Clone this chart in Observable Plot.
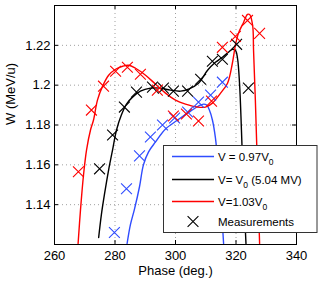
<!DOCTYPE html>
<html>
<head>
<meta charset="utf-8">
<script src="https://cdn.jsdelivr.net/npm/d3@7"></script>
<script src="https://cdn.jsdelivr.net/npm/@observablehq/plot@0.6"></script>
<style>
  body { margin: 0; background: #fff; }
  #chart { position: relative; width: 327px; height: 283px; }
  svg { font-family: "Liberation Sans", Arial, sans-serif; }
</style>
</head>
<body>
<div id="chart"></div>
<script>
// ---- data ----
const xTicks = [260, 280, 300, 320, 340];
const yTicks = [1.14, 1.16, 1.18, 1.2, 1.22];

// simulated curves (phase, W)
const blueCurveX = [284.0, 285.1, 286.4, 288.1, 289.4, 291.1, 293.4, 296.7, 300.7, 305.0, 307.6, 309.3, 310.3, 311.2, 312.2, 313.2, 314.2, 315.2, 315.9];
const blueCurveY = [1.1205, 1.13, 1.1375, 1.149, 1.16, 1.1665, 1.1715, 1.178, 1.1825, 1.187, 1.1895, 1.1905, 1.19, 1.1875, 1.1825, 1.1735, 1.1575, 1.1375, 1.1205];

const blackCurveX = [274.6, 275.5, 276.5, 277.9, 279.2, 280.5, 282.1, 283.8, 285.8, 288.4, 291.7, 295.0, 298.3, 301.7, 304.3, 307.6, 310.6, 313.2, 315.5, 317.5, 318.8, 319.8, 320.5, 321.2, 321.8, 322.5, 323.3];
const blackCurveY = [1.1235, 1.135, 1.145, 1.1575, 1.1675, 1.1775, 1.185, 1.1905, 1.194, 1.197, 1.1985, 1.1985, 1.1975, 1.197, 1.198, 1.201, 1.2075, 1.2115, 1.214, 1.2165, 1.218, 1.2175, 1.2135, 1.2, 1.1775, 1.1475, 1.1205];

const redCurveX = [267.8, 268.6, 269.6, 270.6, 271.9, 272.9, 274.2, 275.9, 277.9, 280.2, 282.5, 284.5, 286.8, 290.1, 293.4, 296.7, 300.0, 303.3, 307.3, 309.9, 312.2, 314.9, 317.2, 318.8, 319.8, 320.8, 322.5, 323.8, 324.5, 325.5, 325.8, 326.4, 327.1, 327.8];
const redCurveY = [1.1205, 1.1375, 1.155, 1.1675, 1.1775, 1.1825, 1.1925, 1.1995, 1.205, 1.208, 1.2095, 1.21, 1.2085, 1.205, 1.2005, 1.196, 1.1925, 1.1905, 1.189, 1.189, 1.191, 1.196, 1.201, 1.211, 1.22, 1.226, 1.2315, 1.2355, 1.2355, 1.23, 1.2175, 1.1925, 1.1575, 1.1205];

// measurements (phase, W)
const blueMeasX = [279.8, 283.8, 288.1, 291.7, 295.7, 299.7, 304.0, 307.6, 311.6, 315.5];
const blueMeasY = [1.126, 1.148, 1.1645, 1.174, 1.18, 1.1835, 1.1865, 1.1915, 1.195, 1.2015];

const blackMeasX = [274.9, 279.2, 283.1, 287.1, 292.4, 296.0, 299.3, 304.0, 308.3, 312.2, 315.5, 320.2, 324.1];
const blackMeasY = [1.158, 1.175, 1.189, 1.1965, 1.199, 1.1985, 1.197, 1.197, 1.203, 1.212, 1.213, 1.2205, 1.1985];

const redMeasX = [267.9, 272.2, 276.2, 280.2, 284.1, 288.4, 294.0, 299.3, 303.6, 307.6, 311.9, 315.5, 319.8, 323.8, 327.8];
const redMeasY = [1.1565, 1.1875, 1.1995, 1.207, 1.209, 1.2055, 1.1975, 1.1845, 1.1855, 1.182, 1.192, 1.219, 1.2245, 1.2325, 1.226];

const seriesNames = ["blue", "black", "red"];
const seriesColors = {blue: "#2f4cff", black: "#000000", red: "#ff0000"};

// ---- build tables ----
const zip = (xs, ys, s) => xs.map((x, i) => ({x, y: ys[i], s}));
const curves = [
  ...zip(blueCurveX, blueCurveY, "blue"),
  ...zip(blackCurveX, blackCurveY, "black"),
  ...zip(redCurveX, redCurveY, "red")
];
const meas = [
  ...zip(blueMeasX, blueMeasY, "blue"),
  ...zip(blackMeasX, blackMeasY, "black"),
  ...zip(redMeasX, redMeasY, "red")
];

const fmtY = d => String(+d.toFixed(2));
const gridX = xTicks.slice(1, -1);

const plot = Plot.plot({
  width: 327,
  height: 283,
  marginLeft: 54,
  marginRight: 31,
  marginTop: 5,
  marginBottom: 39,
  style: {fontFamily: "Liberation Sans, Arial, sans-serif", fontSize: "13px", background: "white"},
  x: {domain: [260, 340]},
  y: {domain: [1.12, 1.24]},
  marks: [
    // dotted grid
    Plot.ruleX(gridX, {stroke: "#888", strokeWidth: 0.8, strokeDasharray: "1,3"}),
    Plot.ruleY(yTicks, {stroke: "#888", strokeWidth: 0.8, strokeDasharray: "1,3"}),
    // curves
    Plot.line(curves, {x: "x", y: "y", z: "s", stroke: d => seriesColors[d.s], strokeWidth: 1.4, curve: "catmull-rom", clip: true}),
    // measurements
    Plot.dot(meas, {x: "x", y: "y", symbol: "times", r: 5, stroke: d => seriesColors[d.s], strokeWidth: 1.1, clip: true}),
    // inward ticks
    Plot.tickX(xTicks, {x: d => d, insetTop: 235, stroke: "black"}),
    Plot.tickX(xTicks, {x: d => d, insetBottom: 235, stroke: "black"}),
    Plot.tickY(yTicks, {y: d => d, insetRight: 238, stroke: "black"}),
    Plot.tickY(yTicks, {y: d => d, insetLeft: 238, stroke: "black"}),
    Plot.frame({stroke: "black", strokeWidth: 1}),
    // axes labels
    Plot.axisX({ticks: xTicks, tickSize: 0, tickPadding: 6, label: null, fontSize: 13}),
    Plot.axisY({ticks: yTicks, tickSize: 0, tickPadding: 4, tickFormat: fmtY, label: null, fontSize: 13}),
    Plot.text(["Phase (deg.)"], {frameAnchor: "bottom", dy: 30, fontSize: 13}),
    Plot.text(["W (MeV/u)"], {frameAnchor: "left", dx: -44, rotate: -90, fontSize: 13})
  ]
});

document.getElementById("chart").appendChild(plot);

// ---- legend ----
const legendItems = [
  {s: "blue", parts: [["V = 0.97V", 0], ["0", 1]]},
  {s: "black", parts: [["V= V", 0], ["0", 1], [" (5.04 MV)", -1]]},
  {s: "red", parts: [["V=1.03V", 0], ["0", 1]]}
];
const svg = d3.select(plot);
const lg = svg.append("g")
  .attr("font-family", "Liberation Sans, Arial, sans-serif")
  .attr("font-size", 11.5)
  .attr("text-anchor", "start");
lg.append("rect").attr("x", 163.5).attr("y", 145.5).attr("width", 153.5).attr("height", 87)
  .style("fill", "#ffffff").style("fill-opacity", 1).style("stroke", "#333").style("stroke-width", 1);
const rowY = [156.5, 179.5, 201.5, 221.5];
legendItems.forEach((it, i) => {
  lg.append("line").attr("x1", 172).attr("x2", 214).attr("y1", rowY[i]).attr("y2", rowY[i])
    .style("stroke", seriesColors[it.s]).style("stroke-width", 1.4);
  const t = lg.append("text").attr("x", 218).attr("y", rowY[i] + 4).style("fill", "black");
  it.parts.forEach(([txt, kind]) => {
    const ts = t.append("tspan").text(txt);
    if (kind === 1) ts.attr("font-size", 8.5).attr("dy", 4);
    else if (kind === -1) ts.attr("dy", -4);
  });
});
// measurement marker
const mx = 193, my = rowY[3], mr = 5.4;
lg.append("path").attr("d", `M${mx - mr},${my - mr}L${mx + mr},${my + mr}M${mx - mr},${my + mr}L${mx + mr},${my - mr}`)
  .style("stroke", "black").style("stroke-width", 1.1).style("fill", "none");
lg.append("text").attr("x", 218).attr("y", rowY[3] + 4).style("fill", "black").text("Measurements");
</script>
</body>
</html>
